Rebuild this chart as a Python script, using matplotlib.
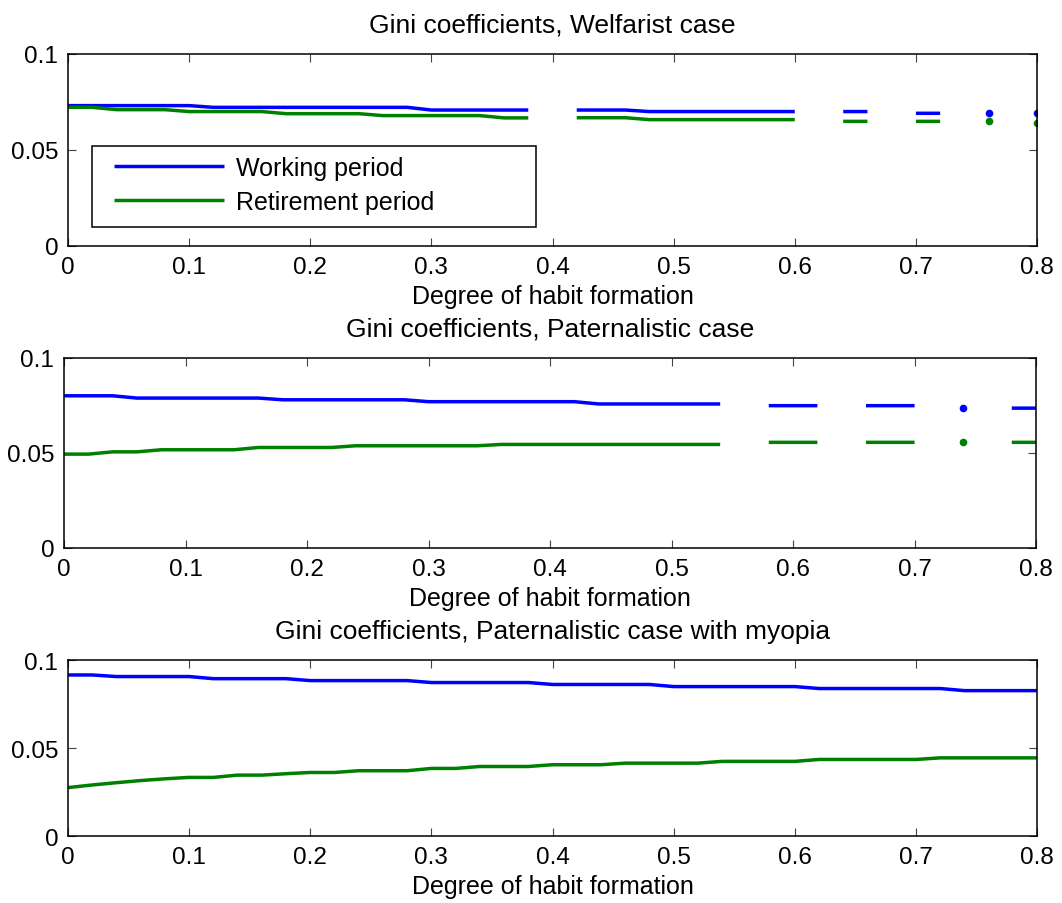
import numpy as np
import matplotlib
matplotlib.use('Agg')
import matplotlib.pyplot as plt
from matplotlib.patches import Rectangle

plt.rcParams['font.family'] = ['Liberation Sans', 'DejaVu Sans']
plt.rcParams['font.size'] = 18

nan = np.nan

# grid of habit-formation parameters, 0 ... 0.8 step 0.02
habit = np.round(np.arange(41) * 0.02, 2)

# Welfarist case (gaps = solver did not converge)
welf_work = [0.0731, 0.0731, 0.0731, 0.0731, 0.0731, 0.0731, 0.0722, 0.0722, 0.0722, 0.0722,
             0.0722, 0.0722, 0.0722, 0.0722, 0.0722, 0.0708, 0.0708, 0.0708, 0.0708, 0.0708,
             nan, 0.0708, 0.0708, 0.0708, 0.0700, 0.0700, 0.0700, 0.0700, 0.0700, 0.0700,
             0.0700, nan, 0.0700, 0.0700, nan, 0.0691, 0.0691, nan, 0.0691, nan,
             0.0691]
welf_ret = [0.0722, 0.0722, 0.0710, 0.0710, 0.0710, 0.0700, 0.0700, 0.0700, 0.0700, 0.0689,
            0.0689, 0.0689, 0.0689, 0.0679, 0.0679, 0.0679, 0.0679, 0.0679, 0.0667, 0.0667,
            nan, 0.0668, 0.0668, 0.0668, 0.0658, 0.0658, 0.0658, 0.0658, 0.0658, 0.0658,
            0.0658, nan, 0.0649, 0.0649, nan, 0.0649, 0.0649, nan, 0.0649, nan,
            0.0641]

# Paternalistic case
pat_work = [0.0801, 0.0801, 0.0801, 0.0789, 0.0789, 0.0789, 0.0789, 0.0789, 0.0789, 0.0780,
            0.0780, 0.0780, 0.0780, 0.0780, 0.0780, 0.0770, 0.0770, 0.0770, 0.0770, 0.0770,
            0.0770, 0.0770, 0.0758, 0.0758, 0.0758, 0.0758, 0.0758, 0.0758, nan, 0.0749,
            0.0749, 0.0749, nan, 0.0749, 0.0749, 0.0749, nan, 0.0736, nan, 0.0736,
            0.0736]
pat_ret = [0.0494, 0.0494, 0.0506, 0.0506, 0.0517, 0.0517, 0.0517, 0.0517, 0.0529, 0.0529,
           0.0529, 0.0529, 0.0538, 0.0538, 0.0538, 0.0538, 0.0538, 0.0538, 0.0545, 0.0545,
           0.0545, 0.0545, 0.0545, 0.0545, 0.0545, 0.0545, 0.0545, 0.0545, nan, 0.0556,
           0.0556, 0.0556, nan, 0.0556, 0.0556, 0.0556, nan, 0.0556, nan, 0.0556,
           0.0556]

# Paternalistic case with myopia
myo_work = [0.0915, 0.0915, 0.0906, 0.0906, 0.0906, 0.0906, 0.0894, 0.0894, 0.0894, 0.0894,
            0.0883, 0.0883, 0.0883, 0.0883, 0.0883, 0.0872, 0.0872, 0.0872, 0.0872, 0.0872,
            0.0861, 0.0861, 0.0861, 0.0861, 0.0861, 0.0849, 0.0849, 0.0849, 0.0849, 0.0849,
            0.0849, 0.0838, 0.0838, 0.0838, 0.0838, 0.0838, 0.0838, 0.0826, 0.0826, 0.0826,
            0.0826]
myo_ret = [0.0275, 0.0290, 0.0303, 0.0315, 0.0325, 0.0333, 0.0333, 0.0346, 0.0346, 0.0354,
           0.0361, 0.0361, 0.0371, 0.0371, 0.0371, 0.0384, 0.0384, 0.0395, 0.0395, 0.0395,
           0.0405, 0.0405, 0.0405, 0.0414, 0.0414, 0.0414, 0.0414, 0.0424, 0.0424, 0.0424,
           0.0424, 0.0435, 0.0435, 0.0435, 0.0435, 0.0435, 0.0444, 0.0444, 0.0444, 0.0444,
           0.0444]

titles = ['Gini coefficients, Welfarist case',
          'Gini coefficients, Paternalistic case',
          'Gini coefficients, Paternalistic case with myopia']
xticks = [0, 0.1, 0.2, 0.3, 0.4, 0.5, 0.6, 0.7, 0.8]
xticklabels = ['0', '0.1', '0.2', '0.3', '0.4', '0.5', '0.6', '0.7', '0.8']
yticks = [0, 0.05, 0.1]
yticklabels = ['0', '0.05', '0.1']

blue = '#0000ff'
green = '#008000'

fig = plt.figure(figsize=(10.62, 9.04), dpi=100)
rects = [[0.064, 0.7268, 0.9125, 0.2124],
         [0.0603, 0.3927, 0.9153, 0.2102],
         [0.064, 0.0741, 0.9125, 0.1947]]
series = [(welf_work, welf_ret), (pat_work, pat_ret), (myo_work, myo_ret)]


def isolated(y):
    # points with no finite neighbour are invisible as a line, draw them as dots
    y = np.asarray(y, dtype=float)
    ok = np.isfinite(y)
    left = np.r_[False, ok[:-1]]
    right = np.r_[ok[1:], False]
    return ok & ~left & ~right


axes = []
for rect, title, (work, ret) in zip(rects, titles, series):
    ax = fig.add_axes(rect)
    for y, c, lab in [(work, blue, 'Working period'), (ret, green, 'Retirement period')]:
        y = np.asarray(y, dtype=float)
        ax.plot(habit, y, color=c, lw=2.5, label=lab, solid_capstyle='butt')
        m = isolated(y)
        ax.plot(habit[m], y[m], 'o', color=c, ms=5.5, mec='none')
    ax.set_xlim(0, 0.8)
    ax.set_ylim(0, 0.1)
    ax.set_xticks(xticks)
    ax.set_xticklabels(xticklabels)
    ax.set_yticks(yticks)
    ax.set_yticklabels(yticklabels)
    ax.tick_params(direction='in', length=6, width=0.8, color='#444444',
                   top=True, right=True, pad=7, labelsize=17.5)
    for s in ax.spines.values():
        s.set_linewidth(1.1)
    ax.set_title(title, fontsize=19, pad=16)
    ax.set_xlabel('Degree of habit formation', labelpad=4.5)
    axes.append(ax)

# legend box drawn separately so its size can be set freely
ax = axes[0]
ax.add_patch(Rectangle((0.0248, 0.099), 0.458, 0.422, transform=ax.transAxes,
                       facecolor='white', edgecolor='black', lw=1.1, zorder=4))
h, l = ax.get_legend_handles_labels()
ax.legend(h[:2], l[:2], loc='upper left', bbox_to_anchor=(0.0475, 0.47),
          borderaxespad=0, borderpad=0, handlelength=4.4, handletextpad=0.5,
          labelspacing=0.4, frameon=False)

fig.savefig('out.png', dpi=100)
